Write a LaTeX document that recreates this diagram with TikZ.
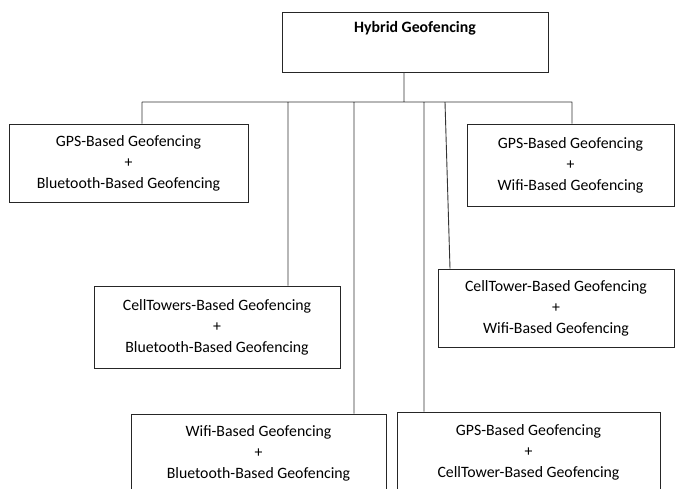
\documentclass[tikz,border=0pt]{standalone}
\usepackage{fontspec}
\setmainfont{Carlito}
\usetikzlibrary{positioning}

\begin{document}
\begin{tikzpicture}[x=1pt,y=-1pt,
    box/.style={draw=black!85, line width=0.9pt, rectangle, inner sep=0pt, align=center,
      font=\fontsize{15.8}{21}\selectfont},
    wire/.style={draw=black!80, line width=0.9pt}]
    \useasboundingbox (0,0) rectangle (675,489);

    \node[box, anchor=base, minimum width=266pt, text height=21pt, text depth=39pt] (hg) at (415,33) {\bfseries Hybrid Geofencing};
    \node[box, minimum width=239pt, minimum height=78pt] (gpsbt) at (128.5,163) {GPS-Based Geofencing\\+\\Bluetooth-Based Geofencing};
    \node[box, minimum width=207pt, minimum height=82pt] (gpswifi) at (570.5,165) {GPS-Based Geofencing\\+\\Wifi-Based Geofencing};
    \node[box, minimum width=246pt, minimum height=82pt] (ctbt) at (217,327) {CellTowers-Based Geofencing\\+\\Bluetooth-Based Geofencing};
    \node[box, minimum width=236pt, minimum height=78pt] (ctwifi) at (556,308) {CellTower-Based Geofencing\\+\\Wifi-Based Geofencing};
    \node[box, minimum width=255pt, minimum height=78pt] (wifibt) at (258.5,453) {Wifi-Based Geofencing\\+\\Bluetooth-Based Geofencing};
    \node[box, minimum width=263pt, minimum height=80pt] (gpsct) at (528.5,452) {GPS-Based Geofencing\\+\\CellTower-Based Geofencing};

    \coordinate (j) at (404,102);
    \coordinate (b1) at (142,102);
    \coordinate (b2) at (288,102);
    \coordinate (b3) at (354,102);
    \coordinate (b4) at (424,102);
    \coordinate (b5) at (445,102);
    \coordinate (b6) at (572,102);

    \path[wire]
    (j |- hg.south) -- (j)
    (b1) -- (b6)
    (b1) -- (b1 |- gpsbt.north)
    (b6) -- (b6 |- gpswifi.north)
    (b2) -- (b2 |- ctbt.north)
    (b3) -- (b3 |- wifibt.north)
    (b4) -- (b4 |- gpsct.north)
    (b5) -- ([xshift=5pt]b5 |- ctwifi.north);
\end{tikzpicture}
\end{document}
